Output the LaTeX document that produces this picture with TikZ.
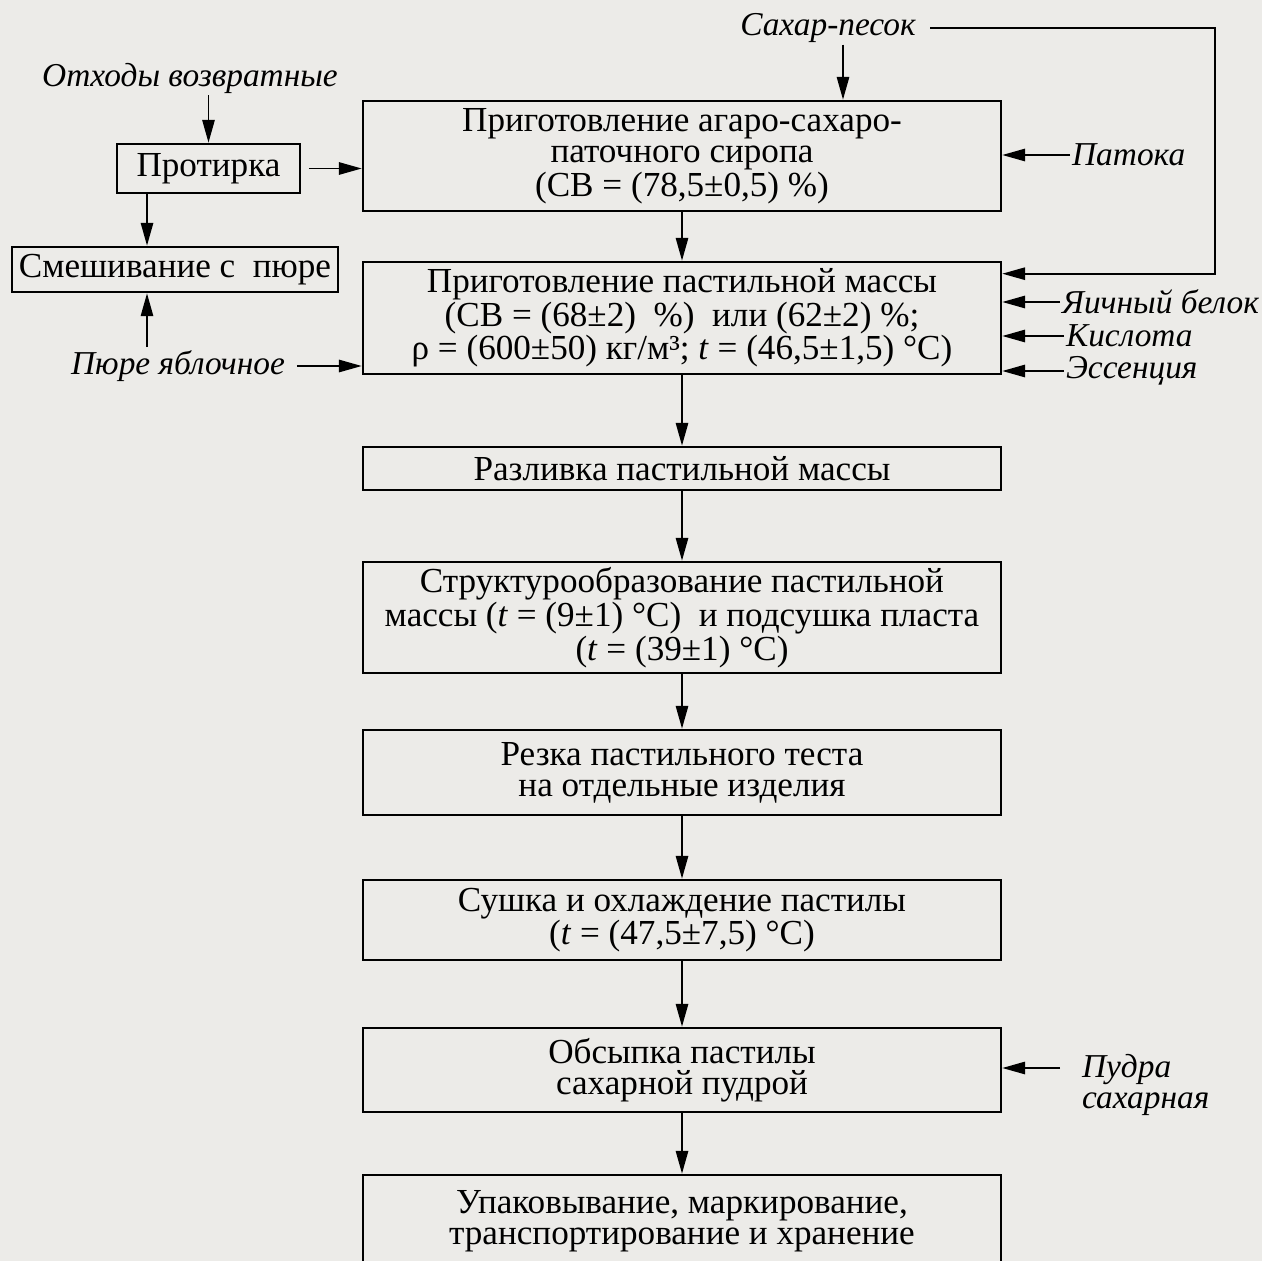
\documentclass[tikz,border=0pt]{standalone}
\usepackage{fontspec}
\setmainfont{Liberation Serif}
\usepackage{tikz}
\usetikzlibrary{arrows.meta,calc}
\usetikzlibrary{positioning}
\definecolor{paper}{RGB}{236,235,232}
\tikzset{
	box/.style={draw,line width=1.5pt,fill=paper,minimum width=12.76cm,align=center,inner sep=0pt,font=\fontsize{20}{17.6}\selectfont},
	smallbox/.style={draw,line width=1.5pt,fill=paper,inner sep=0pt,font=\fontsize{20}{17.6}\selectfont},
	lbl/.style={font=\fontsize{19}{18}\selectfont\itshape,inner sep=1pt},
	arr/.style={line width=1.1pt,-{Triangle[length=13pt,width=7pt]}},
	ln/.style={line width=1.1pt}
}
\begin{document}
\begin{tikzpicture}[x=0.02cm,y=-0.02cm]
			\fill[paper] (0,0) rectangle (1262,1261);
			\useasboundingbox (0,0) rectangle (1262,1261);
			
			\node[box,minimum height=2.2cm] (syrup) at (682,156) {Приготовление агаро-сахаро-\\паточного сиропа\\(СВ = (78,5±0,5) \%)};
			\node[box,minimum height=2.24cm] (mass) at (682,318) {Приготовление пастильной массы\\(СВ = (68±2)~~\%)~~или (62±2) \%;\\ρ = (600±50) кг/м³; \textit{t} = (46,5±1,5)~°C)};
			\node[box,minimum height=0.86cm] (pour) at (682,468.5) {Разливка пастильной массы};
			\node[box,minimum height=2.22cm] (struct) at (682,617.5) {Структурообразование пастильной\\массы (\textit{t} = (9±1)~°C)~~и подсушка пласта\\(\textit{t} = (39±1)~°C)};
			\node[box,minimum height=1.7cm] (cut) at (682,772.5) {Резка пастильного теста\\на отдельные изделия};
			\node[box,minimum height=1.6cm] (dry) at (682,920) {Сушка и охлаждение пастилы\\(\textit{t} = (47,5±7,5)~°C)};
			\node[box,minimum height=1.68cm] (dust) at (682,1070) {Обсыпка пастилы\\сахарной пудрой};
			\node[box,minimum height=1.84cm] (pack) at (682,1221) {Упаковывание,~маркирование,\\транспортирование и хранение};
			
			\node[smallbox,minimum width=3.66cm,minimum height=0.98cm] (wipe) at (208.5,168.5) {Протирка};
			\node[smallbox,minimum width=6.52cm,minimum height=0.9cm] (mix) at (175,269.5) {Смешивание с~~пюре};
			
			\node[lbl] (sugar) at (828,28) {Сахар-песок};
			\node[lbl] (waste) at (190,78) {Отходы возвратные};
			\node[lbl] (puree) at (178,366) {Пюре яблочное};
			\node[lbl,anchor=west] (molasses) at (1070,155) {Патока};
			\node[lbl,anchor=west] (egg) at (1060,302) {Яичный белок};
			\node[lbl,anchor=west] (acid) at (1064,336) {Кислота};
			\node[lbl,anchor=west] (essence) at (1064,371) {Эссенция};
			\node[lbl,anchor=north west,align=left] (powder) at (1080,1052) {Пудра\\сахарная};
			
			\coordinate (puretop) at (147,347);
			\coordinate (powderin) at (1060,1068);
			
			\draw[arr] ([xshift=0.3cm]sugar.south) -- ([xshift=0.3cm]sugar.south |- syrup.north);
			\draw[arr] ([xshift=0.25cm]sugar.east) -- (1215,28) |- ([yshift=-0.26cm]mass.north east);
			\draw[arr] (molasses.west) -- (molasses.west -| syrup.east);
			\draw[arr] (egg.west) -- (egg.west -| mass.east);
			\draw[arr] (acid.west) -- (acid.west -| mass.east);
			\draw[arr] (essence.west) -- (essence.west -| mass.east);
			\draw[arr] (powderin) -- (powderin -| dust.east);
			
			\draw[arr] (wipe.north |- waste.south) -- (wipe.north);
			\draw[arr] ([xshift=0.15cm]wipe.east) -- (wipe.east -| syrup.west);
			\draw[arr] ([xshift=-1.23cm]wipe.south) -- ([xshift=-1.23cm]wipe.south |- mix.north);
			\draw[arr] (puretop) -- (puretop |- mix.south);
			\draw[arr] ([xshift=0.2cm]puree.east) -- (puree.east -| mass.west);
			
			\draw[arr] (syrup) -- (mass);
			\draw[arr] (mass) -- (pour);
			\draw[arr] (pour) -- (struct);
			\draw[arr] (struct) -- (cut);
			\draw[arr] (cut) -- (dry);
			\draw[arr] (dry) -- (dust);
			\draw[arr] (dust) -- (pack);
			
		\end{tikzpicture}
\end{document}
